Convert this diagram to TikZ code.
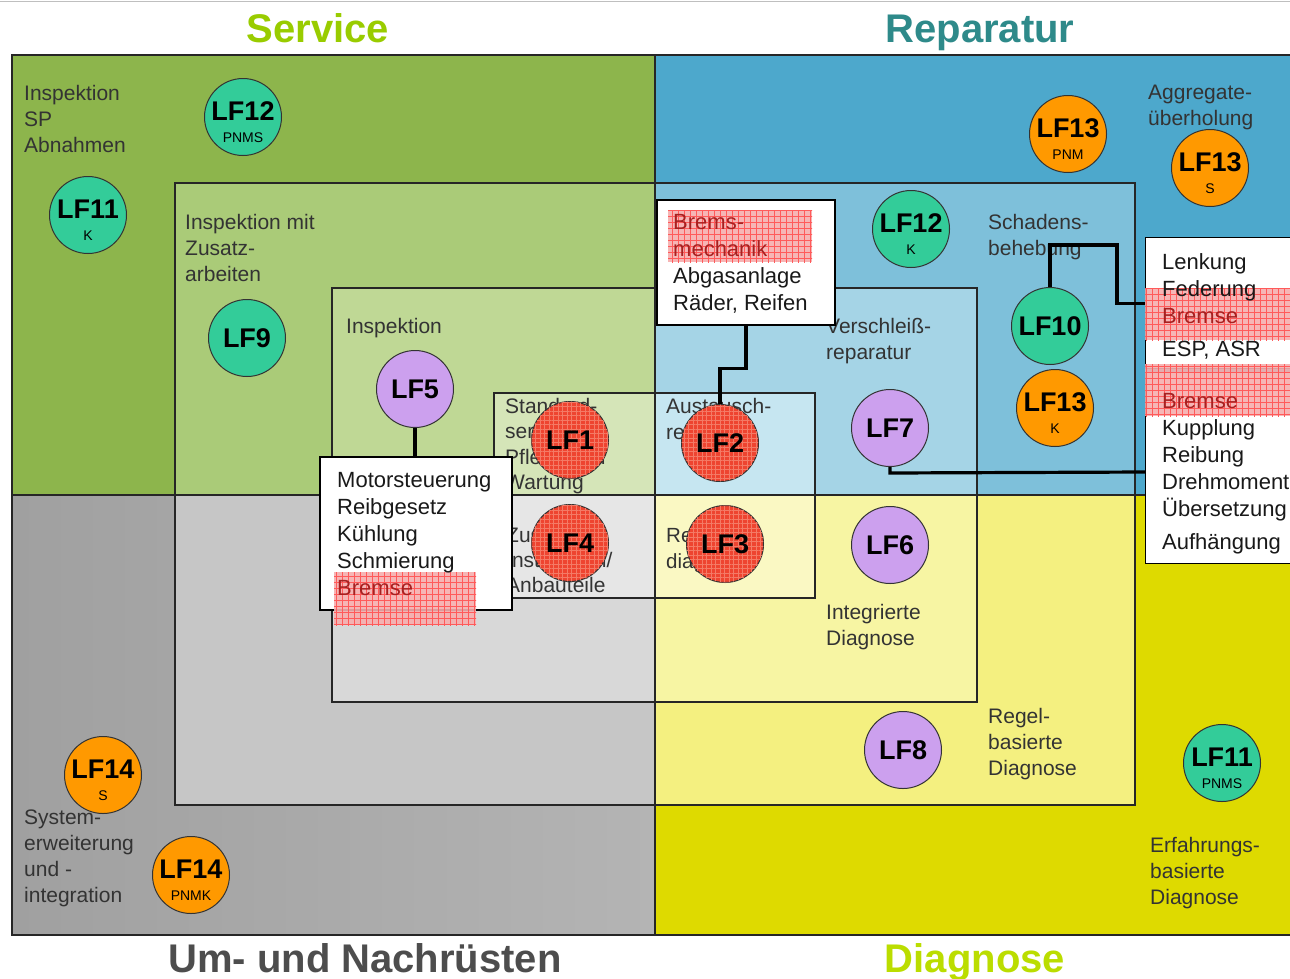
\documentclass[tikz,border=0pt]{standalone}
\usepackage{fontspec}
\setmainfont{Liberation Sans}
\usetikzlibrary{patterns.meta}
\definecolor{gA}{HTML}{8DB54C}
\definecolor{gB}{HTML}{AACB78}
\definecolor{gC}{HTML}{BFD895}
\definecolor{gD}{HTML}{D5E5B8}
\definecolor{bA}{HTML}{4DA8CC}
\definecolor{bB}{HTML}{7EC0DA}
\definecolor{bC}{HTML}{A5D4E6}
\definecolor{bD}{HTML}{C6E6F1}
\definecolor{kAl}{HTML}{A0A0A0}
\definecolor{kAr}{HTML}{B4B4B4}
\definecolor{kB}{HTML}{C6C6C6}
\definecolor{kC}{HTML}{D8D8D8}
\definecolor{kD}{HTML}{E6E6E6}
\definecolor{yA}{HTML}{DEDA00}
\definecolor{yB}{HTML}{F4F080}
\definecolor{yC}{HTML}{F7F5A3}
\definecolor{yD}{HTML}{FAF8C3}
\definecolor{cteal}{HTML}{33CC99}
\definecolor{corange}{HTML}{FF9900}
\definecolor{cpurple}{HTML}{CCA0EE}
\definecolor{cred}{HTML}{EE4430}
\definecolor{credgrid}{HTML}{F47A66}
\definecolor{hatchbg}{HTML}{F6AEAE}
\definecolor{hatchln}{HTML}{FF5A5A}
\definecolor{brtext}{HTML}{A82020}
\definecolor{tService}{HTML}{99CC00}
\definecolor{tRep}{HTML}{2E8A8A}
\definecolor{tUm}{HTML}{4D4D4D}
\definecolor{tDia}{HTML}{BBDD00}
\tikzset{
  frame/.style={draw=black!85, line width=1.4pt},
  lf/.style={circle, draw=black!80, line width=1pt, minimum size=77pt, inner sep=0pt},
  lfr/.style={lf, fill=cred, postaction={pattern={Hatch[angle=0,distance=4.5pt,line width=0.45pt]}, pattern color=credgrid}},
  lfmain/.style={inner sep=0pt, font=\fontsize{27}{30}\selectfont\bfseries},
  lfsub/.style={inner sep=0pt, font=\fontsize{14}{16}\selectfont},
  lbl/.style={anchor=north west, inner sep=0pt, align=left, text=black!80, font=\fontsize{21}{26}\selectfont},
  btxt/.style={anchor=north west, inner sep=0pt, align=left, text=black!90, font=\fontsize{22}{27}\selectfont},
  tbox/.style={draw=black, fill=white, line width=1.4pt, inner sep=0pt},
  hatch/.style={fill=hatchbg, fill opacity=0.9, postaction={pattern={Hatch[angle=0,distance=6pt,line width=0.5pt]}, pattern color=hatchln}},
  conn/.style={draw=black, line width=3.2pt},
  ttl/.style={anchor=base, inner sep=0pt, font=\fontsize{40}{48}\selectfont\bfseries},
}
\newcommand{\LFsub}[6]{%
  \node[#4] (#1) at (#2,#3) {};
  \node[lfmain] (#1m) at (#2,#3-6) {#5};
  \node[lfsub] (#1s) at (#2,#3+21) {#6};}
\newcommand{\LFone}[5]{%
  \node[#4] (#1) at (#2,#3) {};
  \node[lfmain] (#1m) at (#2,#3) {#5};}
\begin{document}
\begin{tikzpicture}[x=1pt,y=-1pt]
\useasboundingbox (0,0) rectangle (1290,978);
\clip (0,0) rectangle (1290,978);
\fill[white] (0,0) rectangle (1290,978);
\draw[black!25, line width=1pt] (0,1) -- (1290,1);
% quadrants
\fill[gA] (12,55) rectangle (655,495);
\fill[bA] (655,55) rectangle (1300,495);
\shade[left color=kAl, right color=kAr] (12,495) rectangle (655,935);
\fill[yA] (655,495) rectangle (1300,935);
% level 2
\fill[gB] (175,183) rectangle (655,495);
\fill[bB] (655,183) rectangle (1135,495);
\fill[kB] (175,495) rectangle (655,805);
\fill[yB] (655,495) rectangle (1135,805);
% level 3
\fill[gC] (332,288) rectangle (655,495);
\fill[bC] (655,288) rectangle (977,495);
\fill[kC] (332,495) rectangle (655,702);
\fill[yC] (655,495) rectangle (977,702);
% level 4
\fill[gD] (494,393) rectangle (655,495);
\fill[bD] (655,393) rectangle (815,495);
\fill[kD] (494,495) rectangle (655,598);
\fill[yD] (655,495) rectangle (815,598);
% borders
\draw[frame] (12,55) rectangle (1300,935);
\draw[frame] (175,183) rectangle (1135,805);
\draw[frame] (332,288) rectangle (977,702);
\draw[frame] (494,393) rectangle (815,598);
\draw[frame] (655,55) -- (655,935);
\draw[frame] (12,495) -- (1300,495);
% titles
\node[ttl, text=tService] (tS) at (318,42) {Service};
\node[ttl, text=tRep] (tR) at (980,42) {Reparatur};
\node[ttl, text=tUm] (tU) at (365,972) {Um- und Nachrüsten};
\node[ttl, text=tDia] (tD) at (975,972) {Diagnose};
% area labels
\node[lbl] (l1) at (24,85) {Inspektion\\SP\\Abnahmen};
\node[lbl] (l2) at (185,214) {Inspektion mit\\Zusatz-\\arbeiten};
\node[lbl] (l3) at (346,318) {Inspektion};
\node[lbl, font=\fontsize{21}{25.5}\selectfont] (l4) at (505,398) {Standard-\\service\\Pflege und\\Wartung};
\node[lbl] (l5) at (666,398) {Austausch-\\reparatur};
\node[lbl, font=\fontsize{21}{25}\selectfont] (l6) at (506,528) {Zusatz-\\Installation/\\Anbauteile};
\node[lbl, font=\fontsize{20.5}{26}\selectfont] (l7) at (666,528) {Reparatur-\\diagnose};
\node[lbl] (l8) at (826,318) {Verschleiß-\\reparatur};
\node[lbl] (l9) at (988,214) {Schadens-\\behebung};
\node[lbl] (l10) at (1148,85) {Aggregate-\\überholung};
\node[lbl] (l11) at (826,604) {Integrierte\\Diagnose};
\node[lbl] (l12) at (988,708) {Regel-\\basierte\\Diagnose};
\node[lbl] (l13) at (1150,837) {Erfahrungs-\\basierte\\Diagnose};
\node[lbl] (l14) at (24,810) {System-\\erweiterung\\und -\\integration};
% circles
\LFsub{c12a}{243}{117}{lf, fill=cteal}{LF12}{PNMS}
\LFsub{c11a}{88}{215}{lf, fill=cteal}{LF11}{K}
\LFone{c9}{247}{338}{lf, fill=cteal}{LF9}
\LFone{c5}{415}{389}{lf, fill=cpurple}{LF5}
\LFone{c1}{570}{440}{lfr}{LF1}
\LFone{c2}{720}{443}{lfr}{LF2}
\LFone{c4}{570}{543}{lfr}{LF4}
\LFone{c3}{725}{544}{lfr}{LF3}
\LFsub{c13a}{1068}{134}{lf, fill=corange}{LF13}{PNM}
\LFsub{c13b}{1210}{168}{lf, fill=corange}{LF13}{S}
\LFsub{c12b}{911}{229}{lf, fill=cteal}{LF12}{K}
\LFone{c10}{1050}{326}{lf, fill=cteal}{LF10}
\LFsub{c13c}{1055}{408}{lf, fill=corange}{LF13}{K}
\LFone{c7}{890}{428}{lf, fill=cpurple}{LF7}
\LFone{c6}{890}{545}{lf, fill=cpurple}{LF6}
\LFone{c8}{903}{750}{lf, fill=cpurple}{LF8}
\LFsub{c11b}{1222}{763}{lf, fill=cteal}{LF11}{PNMS}
\LFsub{c14a}{103}{775}{lf, fill=corange}{LF14}{S}
\LFsub{c14b}{191}{875}{lf, fill=corange}{LF14}{PNMK}
% text boxes
\node[tbox, minimum width=178pt, minimum height=125pt] (bA) at (746,262.5) {};
\node[tbox, minimum width=192pt, minimum height=153pt] (bB) at (416,533.5) {};
\node[tbox, minimum width=155pt, minimum height=131pt, anchor=north west] (bC) at (1145,237) {};
\node[tbox, minimum width=155pt, minimum height=191pt, anchor=north west] (bD) at (1145,372) {};
% hatches
\fill[hatch] (668,210) rectangle (812,262);
\fill[hatch] (334,572) rectangle (476,625);
\fill[hatch] (1145,288) rectangle (1290,340);
\fill[hatch] (1145,364) rectangle (1290,416);
% box texts
\node[btxt] (tA) at (673,214) {\textcolor{brtext}{Brems-}\\\textcolor{brtext}{mechanik}\\Abgasanlage\\Räder, Reifen};
\node[btxt] (tB) at (337,472) {Motorsteuerung\\Reibgesetz\\Kühlung\\Schmierung\\\textcolor{brtext}{Bremse}};
\node[btxt] (tC) at (1162,253) {Lenkung\\Federung\\\textcolor{brtext}{Bremse}\\[6pt]ESP, ASR};
\node[btxt] (tDx) at (1162,393) {\textcolor{brtext}{Bremse}\\Kupplung\\Reibung\\Drehmoment\\Übersetzung\\[6pt]Aufhängung};
% connectors
\draw[conn] (c5.south) -- (c5.south |- bB.north);
\draw[conn] (bA.south) -- ++(0,43) -| (c2.north);
\draw[conn] (c10.north) |- (1117,245) |- (bC.west);
\draw[conn] (c7.south) -- ++(0,6) -- (bD.west |- 0,472);
\end{tikzpicture}
\end{document}
